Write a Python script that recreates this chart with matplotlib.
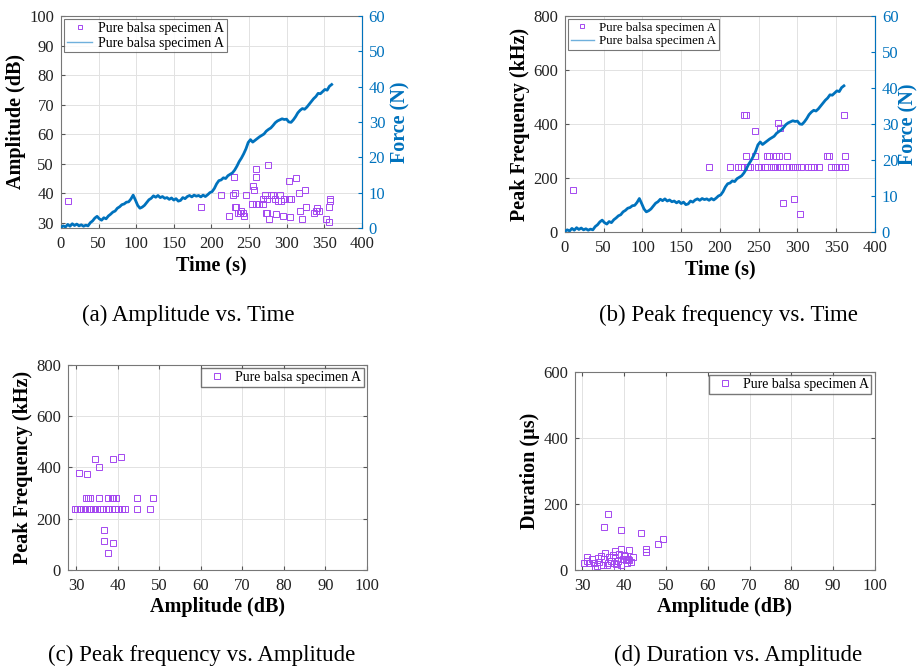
import matplotlib
matplotlib.use("Agg")
import matplotlib.pyplot as plt
from matplotlib.lines import Line2D

plt.rcParams["font.family"] = ["Liberation Serif", "DejaVu Serif"]

force_time = list(range(0, 361, 3))
force_n = [0.2, 0.6, 0.3, 1.0, 0.5, 1.2, 0.7, 1.1, 0.6, 0.9, 0.5, 0.8, 0.6,
           1.5, 2.0, 2.8, 3.3, 2.6, 2.2, 2.9, 2.6, 3.4, 3.9, 4.5, 4.8, 5.6,
           6.0, 6.6, 6.8, 7.3, 7.4, 8.2, 9.3, 7.9, 6.4, 5.6, 5.9, 6.4, 7.2,
           8.0, 8.4, 9.1, 8.7, 9.2, 8.6, 8.9, 8.4, 8.6, 8.1, 8.5, 7.9, 8.3,
           7.6, 7.8, 8.6, 8.3, 8.9, 9.2, 8.8, 9.3, 9.0, 9.2, 8.8, 9.3, 8.9,
           9.4, 10.0, 10.3, 11.2, 12.5, 13.4, 13.6, 14.2, 14.0, 14.8, 15.2,
           15.6, 16.4, 17.5, 18.8, 19.8, 21.0, 22.4, 24.2, 25.0, 24.3, 24.8,
           25.3, 25.8, 26.2, 26.6, 27.4, 27.9, 28.3, 29.0, 29.8, 30.3, 30.6,
           30.9, 30.7, 30.8, 30.0, 29.9, 30.6, 31.5, 32.6, 33.3, 33.8, 33.6,
           34.2, 35.0, 35.8, 36.6, 37.2, 38.1, 38.0, 38.6, 39.2, 39.0, 40.1,
           40.6]

# (a) amplitude vs time
a_time = [10, 186, 213, 224, 229, 230, 232, 231, 233, 235, 238, 240, 242, 244,
          246, 254, 255, 257, 259, 259, 259, 263, 268, 269, 271, 272, 274, 274,
          275.5, 277, 279, 282, 284, 286, 288, 291, 293, 295, 297, 303, 303,
          306, 305, 313, 316, 318, 320, 325, 326, 337, 339, 341, 343, 352, 357,
          357, 358, 358]
a_amp = [37.4, 35.3, 39.4, 32.2, 39.4, 45.4, 40.3, 35.3, 35.3, 33.3, 33.3,
         34.2, 33.5, 32.5, 39.4, 36.4, 42.4, 41.3, 48.3, 45.4, 36.4, 36.4, 38.0,
         36.4, 39.4, 33.3, 33.3, 38.0, 49.6, 31.2, 39.4, 39.4, 38.0, 33.0, 37.3,
         39.4, 37.3, 32.2, 38.0, 38.0, 44.3, 38.0, 32.0, 45.3, 40.3, 34.2, 31.2,
         41.2, 35.3, 33.3, 34.2, 35.0, 34.2, 31.2, 30.3, 35.3, 38.0, 37.3]

# (b) peak frequency vs time
b_time = [10, 186, 213, 223, 227, 231, 236, 239, 249, 253, 258, 261, 268, 271,
          274, 277, 285, 289, 294, 300, 305, 314, 317, 321, 328, 343, 349, 354,
          358, 361, 234, 245, 261, 263, 272, 276, 286, 338, 341, 361, 231, 233,
          275, 245, 277, 360, 282, 295, 303]
b_freq = [155, 240, 240, 240, 240, 240, 240, 240, 240, 240, 240, 240, 240, 240,
          240, 240, 240, 240, 240, 240, 240, 240, 240, 240, 240, 240, 240, 240,
          240, 240, 280, 280, 280, 280, 280, 280, 280, 280, 280, 280, 435, 435,
          402, 375, 384, 435, 108, 121, 67]

# (c) peak frequency vs amplitude
c_amp = [30.8, 32.7, 34.7, 35.6, 38.8, 40.8,
         32.4, 33.0, 33.5, 35.6, 37.8, 38.6, 39.0, 39.6, 44.6, 48.6,
         29.8, 30.3, 31.0, 31.6, 32.2, 32.7, 33.4, 34.0, 34.6, 35.1, 35.8,
         36.6, 37.2, 37.8, 38.6, 39.4, 40.2, 41.0, 41.8, 44.6, 47.8,
         36.7, 36.7, 38.8, 37.8]
c_freq = [380, 375, 432, 401, 432, 442,
          281, 281, 281, 281, 281, 281, 281, 281, 281, 281,
          239, 239, 239, 239, 239, 239, 239, 239, 239, 239, 239,
          239, 239, 239, 239, 239, 239, 239, 239, 239, 239,
          156, 115, 107, 65]

# (d) duration vs amplitude
d_amp = [36.1, 35.1, 39.2, 44.1, 49.2, 48.0, 45.1, 45.1, 41.2, 39.2, 37.9,
         35.5, 42.1, 40.0, 40.4, 40.8,
         30.4, 31.2, 31.6, 32.4, 32.8, 33.5, 33.6, 34.0, 34.4, 34.8, 35.2,
         36.0, 36.4, 36.8, 37.2, 37.6, 37.8, 38.3, 38.6, 38.8, 39.2, 39.8,
         40.2, 40.6, 41.2, 41.6, 31.0, 33.0, 35.8, 38.0]
d_dur = [171, 129, 121, 113, 95, 79, 64, 54, 62, 65, 57, 52, 38, 45, 30, 33,
         22, 40, 20, 32, 20, 12, 35, 25, 42, 15, 32, 20, 40, 28, 45, 20, 35,
         8, 28, 48, 15, 32, 42, 22, 30, 24, 28, 5, 14, 18]

label = "Pure balsa specimen A"
captions = ["(a) Amplitude vs. Time", "(b) Peak frequency vs. Time",
            "(c) Peak frequency vs. Amplitude", "(d) Duration vs. Amplitude"]

mk_color = "#a447f0"
line_color = "#0072BD"
tick_fs = 12
label_fs = 14.5

fig = plt.figure(figsize=(9.17, 6.68), dpi=100)


def style_axes(ax):
    ax.grid(True, color="#e2e2e2", linewidth=0.7)
    ax.set_axisbelow(True)
    ax.tick_params(direction="in", labelsize=tick_fs, length=3, pad=5,
                   color="#555555", labelcolor="#222222")
    ax.tick_params(axis="x", pad=6)
    for sp in ax.spines.values():
        sp.set_color("#777777")
        sp.set_linewidth(0.8)


def scatter(ax, x, y):
    ax.plot(x, y, linestyle="none", marker="s", markersize=3.8,
            markerfacecolor="none", markeredgecolor=mk_color,
            markeredgewidth=0.7, label=label)


def force_axis(ax, lpad):
    ax2 = ax.twinx()
    ax2.plot(force_time, force_n, color=line_color, linewidth=2.0, label=label)
    ax2.set_ylim(0, 60)
    ax2.set_yticks(range(0, 61, 10))
    ax2.tick_params(direction="in", labelsize=tick_fs, length=3, pad=5,
                    colors=line_color)
    ax2.spines["right"].set_color(line_color)
    for s in ["left", "top", "bottom"]:
        ax2.spines[s].set_visible(False)
    ax2.set_ylabel("Force (N)", fontsize=label_fs, fontweight="bold",
                   color=line_color, labelpad=lpad)
    return ax2


def legend_two(ax, fs):
    handles = [Line2D([], [], linestyle="none", marker="s", markersize=3,
                      markerfacecolor="none", markeredgecolor=mk_color,
                      markeredgewidth=0.7),
               Line2D([], [], color="#6fb0dc", linewidth=1.0)]
    leg = ax.legend(handles, [label, label], loc="upper left", fontsize=fs,
                    frameon=True, fancybox=False, borderaxespad=0.25,
                    handlelength=1.8, handletextpad=0.4, borderpad=0.2,
                    labelspacing=0.1)
    leg.get_frame().set_edgecolor("#555555")
    leg.get_frame().set_linewidth(0.8)
    leg.set_zorder(10)


# (a)
ax = fig.add_axes([0.0665, 0.6587, 0.328, 0.3174])
style_axes(ax)
scatter(ax, a_time, a_amp)
ax.set_xlim(0, 400)
ax.set_ylim(28.3, 100)
ax.set_xticks(range(0, 401, 50))
ax.set_yticks(range(30, 101, 10))
ax.set_xlabel("Time (s)", fontsize=label_fs, fontweight="bold", labelpad=2)
ax.set_ylabel("Amplitude (dB)", fontsize=label_fs, fontweight="bold", labelpad=2)
ax2 = force_axis(ax, 4)
legend_two(ax2, 10)

# (b)
ax = fig.add_axes([0.6161, 0.6527, 0.338, 0.3234])
style_axes(ax)
scatter(ax, b_time, b_freq)
ax.set_xlim(0, 400)
ax.set_ylim(0, 800)
ax.set_xticks(range(0, 401, 50))
ax.set_yticks(range(0, 801, 200))
ax.set_xlabel("Time (s)", fontsize=label_fs, fontweight="bold", labelpad=2)
ax.set_ylabel("Peak Frequency (kHz)", fontsize=label_fs, fontweight="bold", labelpad=2)
ax2 = force_axis(ax, 0)
legend_two(ax2, 9.3)

# (c)
ax = fig.add_axes([0.0742, 0.1467, 0.326, 0.3069])
style_axes(ax)
ax.tick_params(right=True, top=True)
scatter(ax, c_amp, c_freq)
ax.set_xlim(28.1, 100)
ax.set_ylim(0, 800)
ax.set_xticks(range(30, 101, 10))
ax.set_yticks(range(0, 801, 200))
ax.set_xlabel("Amplitude (dB)", fontsize=label_fs, fontweight="bold", labelpad=2)
ax.set_ylabel("Peak Frequency (kHz)", fontsize=label_fs, fontweight="bold", labelpad=2)
leg = ax.legend(loc="upper right", fontsize=10, fancybox=False, borderaxespad=0.25,
                handlelength=1.8, handletextpad=0.4, borderpad=0.2)
leg.get_frame().set_edgecolor("#555555")

# (d)
ax = fig.add_axes([0.627, 0.1467, 0.327, 0.2964])
style_axes(ax)
ax.tick_params(right=True, top=True)
scatter(ax, d_amp, d_dur)
ax.set_xlim(28.2, 100)
ax.set_ylim(0, 600)
ax.set_xticks(range(30, 101, 10))
ax.set_yticks(range(0, 601, 200))
ax.set_xlabel("Amplitude (dB)", fontsize=label_fs, fontweight="bold", labelpad=2)
ax.set_ylabel("Duration (µs)", fontsize=label_fs, fontweight="bold", labelpad=2)
leg = ax.legend(loc="upper right", fontsize=10, fancybox=False, borderaxespad=0.25,
                handlelength=1.8, handletextpad=0.4, borderpad=0.2)
leg.get_frame().set_edgecolor("#555555")

# captions under each panel
cap_pos = [(188, 315), (728, 315), (202, 655), (738, 655)]
for text, (x, y) in zip(captions, cap_pos):
    fig.text(x / 917, 1 - y / 668, text, fontsize=16.5, ha="center", va="center")

fig.savefig("out.png", dpi=100)
